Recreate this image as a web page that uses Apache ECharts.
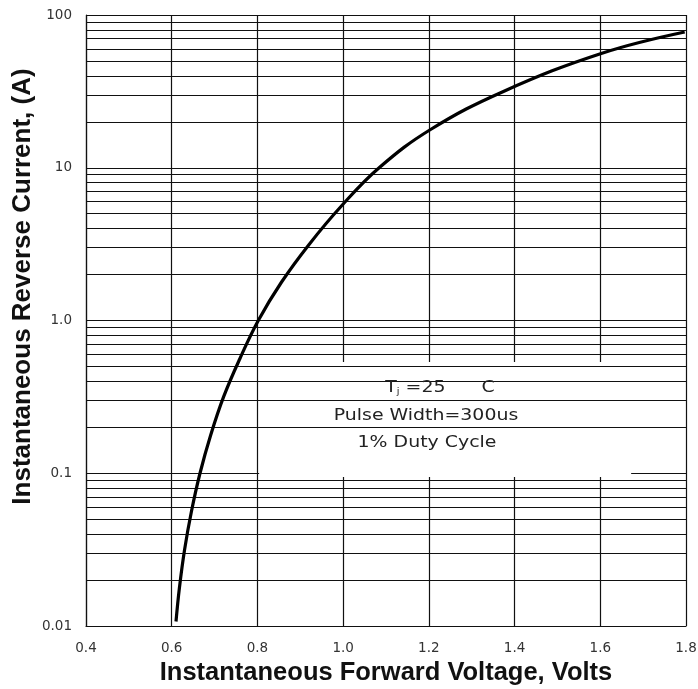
<!DOCTYPE html>
<html>
<head>
<meta charset="utf-8">
<script src="https://cdn.jsdelivr.net/npm/echarts@6/dist/echarts.min.js"></script>
<style>
html,body{margin:0;padding:0;background:#fff;}
#chart{width:698px;height:689px;}
</style>
</head>
<body>
<div id="chart"></div>
<script>
// ---- data ----
const voltage = [0.610, 0.618, 0.630, 0.646, 0.666, 0.691, 0.721, 0.759, 0.802, 0.856, 0.921, 0.996, 1.084, 1.204, 1.374, 1.604, 1.797];
const current = [0.0107, 0.0178, 0.0316, 0.0562, 0.100, 0.178, 0.316, 0.562, 1.00, 1.78, 3.16, 5.62, 10.0, 17.8, 31.6, 56.2, 77.4];
const xTickLabels = ['0.4', '0.6', '0.8', '1.0', '1.2', '1.4', '1.6', '1.8'];
const yTickValues = [0.01, 0.1, 1, 10, 100];
const yTickLabels = ['0.01', '0.1', '1.0', '10', '100'];
const yMinorValues = [
  0.02, 0.03, 0.04, 0.05, 0.06, 0.07, 0.08, 0.09,
  0.2, 0.3, 0.4, 0.5, 0.6, 0.7, 0.8, 0.9,
  2, 3, 4, 5, 6, 7, 8, 9,
  20, 30, 40, 50, 60, 70, 80, 90
];
const noteLines = ['Pulse Width=300us', '1% Duty Cycle'];
const xTitle = 'Instantaneous Forward Voltage, Volts';
const yTitle = 'Instantaneous Reverse Current, (A)';

const gridColor = '#111';
const gridWidth = 1.2;
const chart = echarts.init(document.getElementById('chart'), null, {renderer: 'canvas'});

const option = {
  animation: false,
  backgroundColor: '#fff',
  grid: {left: 86, right: 12, top: 15, bottom: 63, containLabel: false, outerBoundsMode: 'none'},
  xAxis: {
    type: 'value', min: 0.4, max: 1.8, interval: 0.2,
    axisLine: {show: true, lineStyle: {color: gridColor, width: gridWidth}},
    axisTick: {show: false},
    splitLine: {show: true, lineStyle: {color: gridColor, width: gridWidth}},
    axisLabel: {
      margin: 15, color: '#333', fontFamily: 'DejaVu Sans', fontSize: 13.5,
      formatter: function (v) {
        const i = Math.round((v - 0.4) / 0.2);
        return xTickLabels[i] !== undefined ? xTickLabels[i] : '';
      }
    },
    name: xTitle, nameLocation: 'middle', nameGap: 34, nameMoveOverlap: false,
    nameTextStyle: {fontFamily: 'Liberation Sans', fontWeight: 'bold', fontSize: 25.5, color: '#111'}
  },
  yAxis: {
    type: 'log', logBase: 10, min: 0.01, max: 100,
    axisLine: {show: true, lineStyle: {color: gridColor, width: gridWidth}},
    axisTick: {show: false},
    splitLine: {show: true, lineStyle: {color: gridColor, width: gridWidth}},
    axisLabel: {
      margin: 14, color: '#333', fontFamily: 'DejaVu Sans', fontSize: 13.5,
      formatter: function (v) {
        for (let i = 0; i < yTickValues.length; i++) {
          if (Math.abs(Math.log10(v) - Math.log10(yTickValues[i])) < 1e-6) return yTickLabels[i];
        }
        return '';
      }
    },
    name: yTitle, nameLocation: 'middle', nameGap: 50, nameRotate: 90, nameMoveOverlap: false,
    nameTextStyle: {fontFamily: 'Liberation Sans', fontWeight: 'bold', fontSize: 26, color: '#111', padding: [0, 0, 0, 68]}
  },
  series: [
    {
      name: 'minorGrid', type: 'line', data: [], z: 1, silent: true,
      markLine: {
        silent: true, symbol: ['none', 'none'], animation: false,
        label: {show: false},
        lineStyle: {color: gridColor, width: gridWidth, type: 'solid'},
        emphasis: {disabled: true},
        data: yMinorValues.map(v => ({yAxis: v}))
      }
    },
    {
      name: 'noteBox', type: 'line', data: [], z: 3, silent: true,
      markArea: {
        silent: true,
        itemStyle: {color: '#fff', opacity: 1, borderWidth: 0},
        emphasis: {disabled: true},
        data: [[{xAxis: 0.804, yAxis: 0.535}, {xAxis: 1.672, yAxis: 0.0945}]]
      }
    },
    {
      name: 'curve', type: 'line', z: 5,
      data: voltage.map((v, i) => [v, current[i]]),
      showSymbol: false, symbol: 'none', smooth: 0.4,
      lineStyle: {color: '#000', width: 3.2},
      silent: true
    }
  ],
  graphic: {
    elements: [
      {
        type: 'text', x: 440, y: 388, z: 100, scaleX: 1.22,
        style: {
          text: '{n|T}{s|j}{n| =25      C}',
          align: 'center', verticalAlign: 'middle',
          rich: {
            n: {fontFamily: 'DejaVu Sans', fontSize: 15.5, fill: '#222'},
            s: {fontFamily: 'DejaVu Sans', fontSize: 8, fill: '#222', verticalAlign: 'bottom', padding: [6, 0, 0, 0]}
          }
        }
      },
      {
        type: 'text', x: 426, y: 416, z: 100, scaleX: 1.22,
        style: {text: noteLines[0], align: 'center', verticalAlign: 'middle',
          font: '15.5px "DejaVu Sans"', fill: '#222'}
      },
      {
        type: 'text', x: 427, y: 443, z: 100, scaleX: 1.22,
        style: {text: noteLines[1], align: 'center', verticalAlign: 'middle',
          font: '15.5px "DejaVu Sans"', fill: '#222'}
      }
    ]
  }
};
chart.setOption(option);
</script>
</body>
</html>
